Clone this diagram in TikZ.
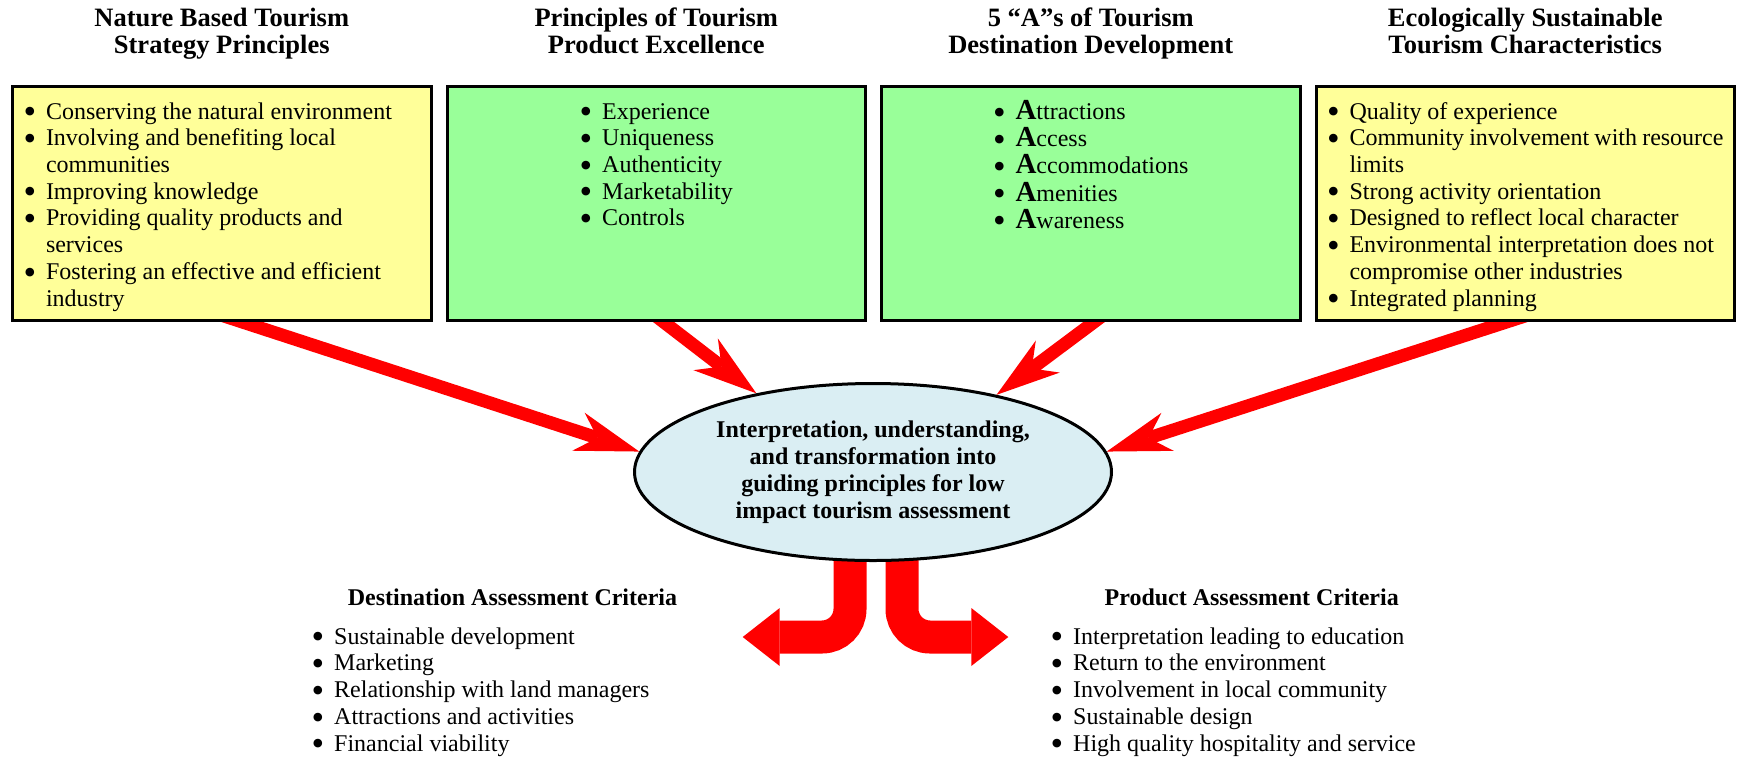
\documentclass[tikz,border=0pt]{standalone}
\usepackage{fontspec}
\setmainfont{Liberation Serif}
\usetikzlibrary{positioning,shapes.geometric,arrows.meta,backgrounds}

\definecolor{paleyellow}{HTML}{FFFF99}
\definecolor{palegreen}{HTML}{99FF99}
\definecolor{paleblue}{HTML}{DAEEF3}

\newcommand{\bul}{\makebox[22.5pt][l]{\raisebox{-4.7pt}{\fontsize{36}{26.7}\selectfont\textbullet}}}
\newcommand{\hang}{\hspace*{22.5pt}}
\newcommand{\bigA}{{\fontsize{29}{26.7}\selectfont\bfseries A}}
\newcommand{\boxtext}[1]{\parbox[c][206pt][t]{396.5pt}{\fontsize{24}{26.7}\selectfont\strut #1}}
\newcommand{\boxlist}[1]{\parbox[c][206pt][t]{396.5pt}{\centering\fontsize{24}{26.7}\selectfont
  \begin{tabular}[t]{@{}l@{}}#1\end{tabular}}}

\begin{document}
\begin{tikzpicture}[x=1pt, y=-1pt,
    srcbox/.style={draw, line width=3pt, inner xsep=11pt, inner ysep=14pt, minimum width=418.5pt, minimum height=234pt},
    heading/.style={font={\fontsize{26.5}{26}\selectfont\bfseries}, align=center, inner sep=0pt},
    subhead/.style={font={\fontsize{24}{26.7}\selectfont\bfseries}, inner sep=0pt, anchor=base},
    itemlist/.style={font={\fontsize{24}{26.7}\selectfont}, align=left, inner sep=0pt, anchor=north west},
    redarrow/.style={draw=red, line width=13pt, -{Stealth[length=64pt, width=40pt, inset=20pt, line width=0pt]}},
    bendarrow/.style={draw=red, line width=33pt, rounded corners=28pt, -{Triangle[length=37pt, width=58pt, line width=0pt]}}]
    \useasboundingbox (0,0) rectangle (1738,756);

    % Source boxes
    \node [srcbox, fill=paleyellow, anchor=north west] (nbt) at (11,85) {\boxtext{%
        \bul Conserving the natural environment\\
        \bul Involving and benefiting local\\
        \hang communities\\
        \bul Improving knowledge\\
        \bul Providing quality products and\\
        \hang services\\
        \bul Fostering an effective and efficient\\
        \hang industry}};
    \node [srcbox, fill=palegreen, right=13pt of nbt] (ppe) {\boxlist{%
        \bul Experience\\
        \bul Uniqueness\\
        \bul Authenticity\\
        \bul Marketability\\
        \bul Controls}};
    \node [srcbox, fill=palegreen, right=13pt of ppe] (fiveA) {\boxlist{%
        \bul \bigA ttractions\\
        \bul \bigA ccess\\
        \bul \bigA ccommodations\\
        \bul \bigA menities\\
        \bul \bigA wareness}};
    \node [srcbox, fill=paleyellow, right=13pt of fiveA] (est) {\boxtext{%
        \bul Quality of experience\\
        \bul Community involvement with resource\\
        \hang limits\\
        \bul Strong activity orientation\\
        \bul Designed to reflect local character\\
        \bul Environmental interpretation does not\\
        \hang compromise other industries\\
        \bul Integrated planning}};

    % Headings
    \node [heading, above=23.7pt of nbt] (nbt-title) {\strut Nature Based Tourism\\Strategy Principles\strut};
    \node [heading, above=23.7pt of ppe] (ppe-title) {\strut Principles of Tourism\\Product Excellence\strut};
    \node [heading, above=23.7pt of fiveA] (fiveA-title) {\strut 5 “A”s of Tourism\\Destination Development\strut};
    \node [heading, above=23.7pt of est] (est-title) {\strut Ecologically Sustainable\\Tourism Characteristics\strut};

    % Centre
    \node [ellipse, draw, line width=3pt, fill=paleblue, minimum width=477pt, minimum height=177pt, inner sep=0pt,
           align=center, font={\fontsize{24}{27}\selectfont\bfseries}] (interp) at (873,472)
          {Interpretation, understanding,\\and transformation into\\guiding principles for low\\impact tourism assessment};

    % Criteria
    \node [subhead] (dest-title) at (512.5,605) {Destination Assessment Criteria};
    \node [itemlist] (dest) at (311.5,625.3) {\strut\bul Sustainable development\\
        \bul Marketing\\
        \bul Relationship with land managers\\
        \bul Attractions and activities\\
        \bul Financial viability};
    \node [subhead] (prod-title) at (1251.7,605) {Product Assessment Criteria};
    \node [itemlist] (prod) at (1050.5,625.3) {\strut\bul Interpretation leading to education\\
        \bul Return to the environment\\
        \bul Involvement in local community\\
        \bul Sustainable design\\
        \bul High quality hospitality and service};
    \coordinate (dest-tip) at (742.7,637);
    \coordinate (prod-tip) at (1008.3,637);

    % Arrows
    \begin{scope}[on background layer]
        \draw [redarrow] ([xshift=-4pt, yshift=8pt]nbt.south) -- (interp.175);
        \draw [redarrow] ([xshift=-3pt, yshift=8pt]ppe.south) -- (interp.146);
        \draw [redarrow] ([xshift=14pt, yshift=8pt]fiveA.south) -- (interp.32);
        \draw [redarrow] ([xshift=6pt, yshift=8pt]est.south) -- (interp.5);
        \draw [bendarrow] ([xshift=-23pt, yshift=10pt]interp.south) |- (dest-tip);
        \draw [bendarrow] ([xshift=29pt, yshift=10pt]interp.south) |- (prod-tip);
    \end{scope}
\end{tikzpicture}
\end{document}
